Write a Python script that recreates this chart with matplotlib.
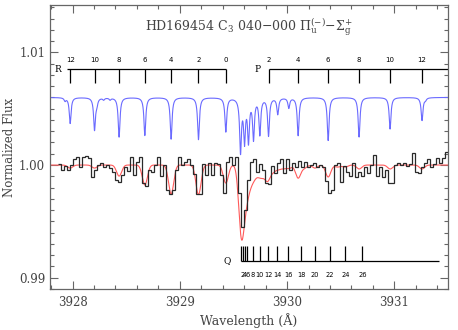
import numpy as np
import matplotlib
matplotlib.use("Agg")
import matplotlib.pyplot as plt
from matplotlib.ticker import MultipleLocator

plt.rcParams['font.family'] = ['DejaVu Serif']
plt.rcParams['mathtext.fontset'] = 'dejavuserif'

# ---------------- data ----------------
# observed spectrum (histogram), bin width 0.028 A starting at 3927.86
obs_start = 3927.86
obs_step = 0.028
obs_flux = [1.0001, 0.9996, 0.9999, 0.9996, 1.0000, 1.0005, 1.0007, 0.9998, 1.0007, 1.0008,
            1.0006, 0.9989, 0.9996, 1.0000, 1.0002, 0.9998, 1.0000, 0.9997, 0.9994, 0.9987,
            0.9985, 0.9991, 0.9998, 0.9995, 1.0007, 0.9991, 1.0003, 1.0007, 0.9984, 0.9981,
            0.9996, 0.9994, 1.0000, 1.0007, 0.9990, 1.0000, 0.9978, 0.9974, 0.9978, 0.9996,
            1.0007, 1.0000, 1.0003, 1.0005, 1.0000, 0.9992, 0.9974, 0.9974, 1.0001, 0.9991,
            1.0002, 0.9991, 1.0002, 1.0001, 0.9991, 0.9975, 1.0003, 1.0007, 1.0000, 1.0007,
            0.9975, 0.9945, 0.9960, 0.9987, 1.0003, 1.0005, 0.9994, 1.0001, 0.9996, 0.9984,
            0.9983, 0.9999, 0.9993, 1.0002, 1.0005, 0.9993, 1.0005, 0.9996, 1.0002, 0.9998,
            1.0004, 0.9998, 1.0003, 0.9998, 1.0000, 1.0002, 0.9998, 1.0000, 0.9998, 0.9986,
            0.9975, 0.9978, 1.0000, 1.0002, 0.9985, 0.9999, 0.9994, 0.9990, 1.0002, 0.9989,
            0.9994, 0.9990, 0.9998, 0.9993, 1.0000, 1.0009, 0.9990, 0.9998, 0.9989, 0.9996,
            0.9984, 0.9984, 1.0000, 1.0002, 1.0000, 1.0002, 0.9999, 1.0001, 1.0011, 0.9994,
            0.9993, 0.9998, 1.0002, 1.0005, 0.9998, 1.0001, 1.0006, 1.0002, 1.0006, 1.0012]

# convolved model (red): line centres and depths
red_centres = [3927.978, 3928.205, 3928.434, 3928.674, 3928.919, 3929.174, 3929.429,
               3929.571, 3929.600, 3929.630, 3929.665, 3929.700, 3929.745, 3929.780,
               3929.820, 3929.870, 3929.920, 3929.970, 3930.020, 3930.103, 3930.160,
               3930.260, 3930.383, 3930.470, 3930.540, 3930.672, 3930.961, 3931.258]
red_depths = [0.00027, 0.00027, 0.00098, 0.00177, 0.00257, 0.00262, 0.00160,
              0.00532, 0.00213, 0.00177, 0.00106, 0.00080, 0.00080, 0.00062,
              0.00124, 0.00053, 0.00035, 0.00027, 0.00027, 0.00115, 0.00027,
              0.00027, 0.00106, 0.00018, 0.00018, 0.00035, 0.00035, 0.00035]

# unconvolved model (blue), shifted upward
blue_offset = 0.0060
blue_centres = [3927.930, 3927.978, 3928.205, 3928.226, 3928.290, 3928.350, 3928.434,
                3928.674, 3928.919, 3929.174, 3929.429, 3929.566, 3929.603, 3929.640,
                3929.687, 3929.746, 3929.827, 3929.913, 3930.016, 3930.103, 3930.383,
                3930.671, 3930.960, 3931.258, 3931.290]
blue_depths = [0.00027, 0.00230, 0.00284, 0.00053, 0.00018, 0.00018, 0.00351,
               0.00337, 0.00369, 0.00373, 0.00302, 0.00470, 0.00370, 0.00370,
               0.00355, 0.00320, 0.00335, 0.00145, 0.00090, 0.00337, 0.00381,
               0.00351, 0.00280, 0.00204, 0.00018]

# line identification ladders
R_J = [12, 10, 8, 6, 4, 2, 0]
R_wl = [3927.978, 3928.205, 3928.434, 3928.674, 3928.919, 3929.174, 3929.426]
P_J = [2, 4, 6, 8, 10, 12]
P_wl = [3929.827, 3930.103, 3930.383, 3930.672, 3930.961, 3931.258]
Q_J = [2, 4, 6, 8, 10, 12, 14, 16, 18, 20, 22, 24, 26]
Q_wl = [3929.590, 3929.609, 3929.631, 3929.680, 3929.746, 3929.823, 3929.906,
        3930.013, 3930.134, 3930.261, 3930.398, 3930.544, 3930.701]
Q_head = 3929.575

title = r"HD169454 C$_3$ 040$-$000 $\Pi_{\rm u}^{(-)}$$-$$\Sigma_{\rm g}^{+}$"

# ---------------- figure ----------------
fig = plt.figure(figsize=(4.58, 3.30), dpi=100)
ax = fig.add_axes([50/458, 1-289/330, 398/458, 284/330])

xmin, xmax = 3927.79, 3931.50
ymin, ymax = 0.9890, 1.0142
wl = np.linspace(xmin, xmax, 6000)

# red model
red = np.ones_like(wl)
sig = 0.024
for c, d in zip(red_centres, red_depths):
    red -= d * np.exp(-0.5 * ((wl - c) / sig) ** 2)
ax.plot(wl, red, color='#ff5a5a', lw=0.8, zorder=2)

# blue model
blue = np.ones_like(wl) + blue_offset
gam = 0.010
for c, d in zip(blue_centres, blue_depths):
    blue -= d / (1 + ((wl - c) / gam) ** 2)
ax.plot(wl, blue, color='#6a6aff', lw=0.8, zorder=2)

# observed histogram
edges = obs_start + obs_step * np.arange(len(obs_flux) + 1)
ax.stairs(obs_flux, edges, color='#2a2a2a', lw=0.9, zorder=3, baseline=None)

# ladders
lc = 'black'
lfs = 4.8
# R
yR, yRt, yRl = 1.00852, 1.0073, 1.00932
ax.hlines(yR, 3927.944, R_wl[-1], color=lc, lw=0.9)
ax.vlines(R_wl, yRt, yR, color=lc, lw=0.9)
for j, w in zip(R_J, R_wl):
    ax.text(w, yRl, str(j), ha='center', va='center', fontsize=5.0, family='DejaVu Sans')
ax.text(3927.863, yR, 'R', ha='center', va='center', fontsize=6.5)
# P
ax.hlines(yR, P_wl[0], xmax, color=lc, lw=0.9)
ax.vlines(P_wl, yRt, yR, color=lc, lw=0.9)
for j, w in zip(P_J, P_wl):
    ax.text(w, yRl, str(j), ha='center', va='center', fontsize=5.0, family='DejaVu Sans')
ax.text(3929.72, yR, 'P', ha='center', va='center', fontsize=6.5)
# Q
yQ, yQt, yQl = 0.99151, 0.99284, 0.99027
ax.hlines(yQ, Q_head, 3931.42, color=lc, lw=0.9)
ax.vlines([Q_head] + Q_wl, yQ, yQt, color=lc, lw=0.9)
for j, w in zip(Q_J, Q_wl):
    ax.text(w, yQl, str(j), ha='center', va='center', fontsize=lfs, family='DejaVu Sans')
ax.text(3929.445, yQ, 'Q', ha='center', va='center', fontsize=6.5)

# title
ax.text(3929.64, 1.0122, title, ha='center', va='center', fontsize=9, color='#444444')

# axes styling
gray = '#666666'
ax.set_xlim(xmin, xmax)
ax.set_ylim(ymin, ymax)
ax.xaxis.set_major_locator(MultipleLocator(1))
ax.xaxis.set_minor_locator(MultipleLocator(0.2))
ax.yaxis.set_major_locator(MultipleLocator(0.01))
ax.yaxis.set_minor_locator(MultipleLocator(0.001))
ax.xaxis.set_major_formatter(matplotlib.ticker.FormatStrFormatter('%d'))
ax.yaxis.set_major_formatter(matplotlib.ticker.FormatStrFormatter('%.2f'))
ax.tick_params(which='both', direction='in', top=True, right=True, color=gray,
               labelcolor='#444444', labelsize=8.5, width=0.8)
ax.tick_params(which='major', length=6)
ax.tick_params(which='minor', length=3.2)
ax.tick_params(axis='x', pad=5)
for s in ax.spines.values():
    s.set_color(gray)
    s.set_linewidth(0.9)
ax.set_xlabel('Wavelength (Å)', fontsize=9, color='#444444', labelpad=3)
ax.set_ylabel('Normalized Flux', fontsize=8.5, color='#444444', labelpad=2)

fig.savefig('out.png', dpi=100)
